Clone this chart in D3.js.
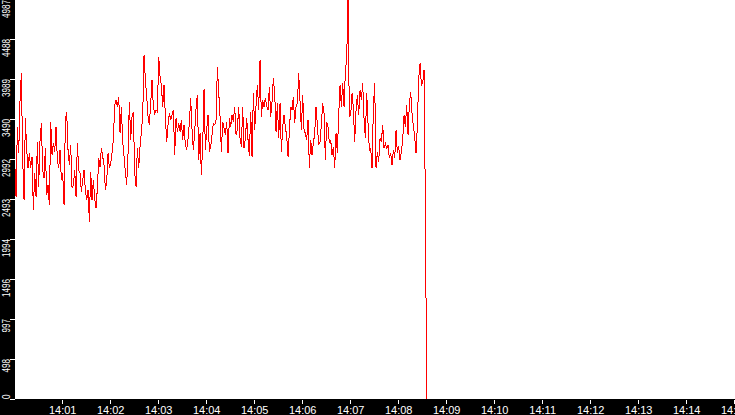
<!DOCTYPE html>
<html>
<head>
<meta charset="utf-8">
<script src="https://cdn.jsdelivr.net/npm/d3@7"></script>
<style>
  html, body { margin: 0; padding: 0; background: #fff; overflow: hidden; }
  svg { display: block; }
  text { font-family: "Liberation Sans", Arial, sans-serif; fill: #fff; }
</style>
</head>
<body>
<svg id="chart"></svg>
<script>
const parseTime = d3.timeParse('%H:%M');

const startLabel = '14:00';
const endLabel = '14:15';
const sampleSeconds = 5 / 3;
const yMax = 4987;

const xTickLabels = ['14:01', '14:02', '14:03', '14:04', '14:05', '14:06', '14:07',
                     '14:08', '14:09', '14:10', '14:11', '14:12', '14:13', '14:14', '14:15'];
const yTickLabels = [0, 498, 997, 1496, 1994, 2493, 2992, 3490, 3989, 4488, 4987];

// one reading every sampleSeconds, starting at 14:00:00
const values = [
    2980, 2523, 3396, 3063, 3728, 4069, 2980, 2481, 3500, 3105,
    2876, 3063, 2876, 3022, 2357, 2814, 2523, 3209, 2648, 3230,
    3437, 2855, 2752, 3126, 2544, 2668, 2419, 3458, 3043, 3188,
    3084, 3396, 2980, 2876, 3105, 2731, 2814, 2419, 3479, 3583,
    3105, 2918, 3167, 2627, 2668, 2855, 2523, 3188, 2855, 2814,
    2585, 2731, 2855, 2606, 2481, 2606, 2211, 2835, 2481, 2731,
    2502, 2377, 2627, 3001, 2897, 3126, 3022,
    2918, 2606, 2710, 3063, 2876, 2939, 3063, 3230, 3666, 3728,
    3645, 3770, 3313, 3645, 3209, 3022, 2835, 2668, 3063, 3708,
    3230, 3521, 3583, 2814, 2648, 3126, 2876, 3147, 3334, 3521,
    4290, 3978, 3770, 3521, 3417, 3687, 3978, 3645, 3562, 3604,
    3583, 4269, 4019, 3915, 3645, 3915, 3521, 3209, 3417, 3562,
    3479, 3541, 3604, 3043, 3500, 3334, 3437, 3334, 3479, 3230,
    3417, 3167, 3105, 3250, 3437,
    3749, 3354, 3105, 3334, 3625, 3791, 2980, 3313, 2793, 3167,
    3866, 3105, 3354, 3541, 3084, 3147, 3292, 3437, 3417, 3479,
    4144, 3832, 3521, 3084, 3458, 3375, 3292, 3458, 3063, 3500,
    3396, 3541, 3458, 3645, 3292, 3354, 3645, 3250, 3147, 3645,
    3126, 3250, 3500, 3230, 3034, 3583, 3022, 3812, 3354, 3666,
    3915, 3604, 4227, 3521, 3728, 3645, 3749, 3645, 3604, 3895,
    3521, 3708, 3999, 3812,
    3333, 3686, 3250, 3686, 3084, 3395, 3541, 3395, 3271, 3021,
    3333, 3645, 3603, 3769, 3437, 3645, 3686, 4060, 3707, 3354,
    3790, 3354, 3312, 3229, 3479, 2884, 3229, 3042, 3188, 3312,
    3645, 3416, 3167, 3208, 3416, 3686, 3562, 2980, 3458, 3395,
    3188, 3229, 3042, 3146, 2876, 3312, 3063, 3541, 3915, 3645,
    3936, 3645, 4081, 4248, 4987, 3520, 3541, 3811, 3624, 3208,
    3603, 3790, 3541,
    3853, 3728, 3936, 3500, 3250, 3812, 3437, 3105, 3126, 2876,
    3625, 3936, 2876, 3084, 2959, 3250, 3209, 3417, 3126, 3188,
    3126, 3167, 3001, 3063, 2918, 3105, 3001, 3354, 3063, 3147,
    2980, 3084, 3230, 3541, 3396, 3666, 3292, 3687, 3832, 3562,
    3396, 3271, 3063, 3417, 3999, 4186, 3915, 3936, 4103, 2419,
    0
];

function drawChart () {
    let w = 735;
    let h = 415;
    let left = 14.7;
    let bottom = 399;

    let svg = d3.select('#chart')
        .attr('width', w)
        .attr('height', h);

    let start = parseTime(startLabel);
    let x = d3.scaleTime()
        .domain([start, parseTime(endLabel)])
        .range([left, w - 0.3]);
    let y = d3.scaleLinear()
        .domain([0, yMax])
        .range([bottom, -1]);

    let points = values.map((v, i) => {
        return { t: new Date(+start + i * sampleSeconds * 1000), v: v };
    });

    svg.append('rect')
        .attr('width', w)
        .attr('height', h)
        .attr('fill', '#ffffff');

    let line = d3.line()
        .x((d) => { return x(d.t); })
        .y((d) => { return y(d.v); });

    svg.append('path')
        .datum(points)
        .attr('d', line)
        .attr('fill', 'none')
        .attr('stroke', '#ff0000')
        .attr('stroke-width', 1)
        .attr('shape-rendering', 'crispEdges');

    // black frame strips
    svg.append('rect')
        .attr('x', 0).attr('y', 0)
        .attr('width', 15).attr('height', h)
        .attr('fill', '#000000');
    svg.append('rect')
        .attr('x', 0).attr('y', bottom)
        .attr('width', w).attr('height', h - bottom)
        .attr('fill', '#000000');

    // y axis
    svg.selectAll('line.ytick')
        .data(yTickLabels)
        .enter()
        .append('line')
        .attr('class', 'ytick')
        .attr('x1', 10)
        .attr('x2', 15)
        .attr('y1', (d) => { return Math.round(y(d)) + 0.5; })
        .attr('y2', (d) => { return Math.round(y(d)) + 0.5; })
        .attr('stroke', '#ffffff')
        .attr('stroke-width', 1)
        .attr('shape-rendering', 'crispEdges');

    svg.selectAll('text.ylabel')
        .data(yTickLabels)
        .enter()
        .append('text')
        .attr('class', 'ylabel')
        .attr('transform', (d) => {
            let ty = d === 0 ? bottom : Math.max(0, y(d));
            return 'translate(9.5,' + ty + ') rotate(-90)';
        })
        .attr('text-anchor', (d) => { return d === 0 ? 'start' : 'end'; })
        .attr('font-size', '10.5px')
        .attr('textLength', (d) => { return String(d).length * 4.5; })
        .attr('lengthAdjust', 'spacingAndGlyphs')
        .text((d) => { return d; });

    // x axis
    let xTicks = xTickLabels.map(parseTime);

    svg.selectAll('line.xtick')
        .data(xTicks)
        .enter()
        .append('line')
        .attr('class', 'xtick')
        .attr('x1', (d) => { return Math.floor(x(d)) + 0.5; })
        .attr('x2', (d) => { return Math.floor(x(d)) + 0.5; })
        .attr('y1', 400)
        .attr('y2', 404)
        .attr('stroke', '#ffffff')
        .attr('stroke-width', 1)
        .attr('shape-rendering', 'crispEdges');

    svg.selectAll('text.xlabel')
        .data(xTicks)
        .enter()
        .append('text')
        .attr('class', 'xlabel')
        .attr('x', (d) => { return x(d); })
        .attr('y', 414)
        .attr('text-anchor', 'middle')
        .attr('font-size', '11px')
        .text((d, i) => { return xTickLabels[i]; });
}

drawChart();
</script>
</body>
</html>
